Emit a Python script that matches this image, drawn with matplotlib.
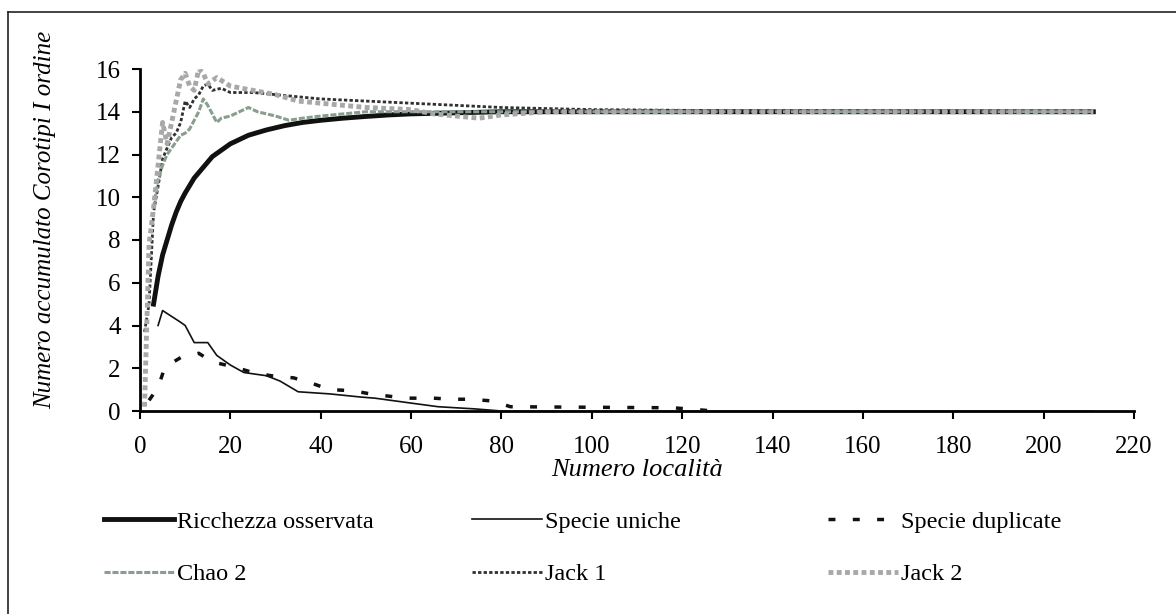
import matplotlib
matplotlib.use("Agg")
import matplotlib.pyplot as plt
from matplotlib.lines import Line2D

plt.rcParams['font.family'] = ['Liberation Serif', 'DejaVu Serif']

# valori (numero località -> valore)
x_oss = [3, 4, 5, 6, 7, 8, 9, 10, 12, 14, 16, 18, 20, 24, 28, 32, 36, 40, 45, 50, 55, 60, 70, 80, 211]
ricchezza = [5.0, 6.3, 7.3, 8.0, 8.7, 9.3, 9.8, 10.2, 10.9, 11.4, 11.9, 12.2, 12.5, 12.9, 13.15,
             13.35, 13.5, 13.6, 13.7, 13.78, 13.85, 13.9, 13.95, 14.0, 14.0]

x_uni = [4, 5, 9, 10, 12, 15, 17, 20, 23, 28, 31, 35, 42, 49, 52, 60, 66, 74, 80, 211]
uniche = [4.0, 4.7, 4.15, 4.0, 3.2, 3.2, 2.6, 2.15, 1.8, 1.65, 1.4, 0.9, 0.8, 0.65, 0.6, 0.37,
          0.2, 0.1, 0.0, 0.0]

x_dup = [2, 4, 5.5, 9, 13, 16, 21, 25, 29, 34, 38, 42, 47, 51, 56, 60, 65, 69, 73, 78, 82, 118, 127]
duplicate = [0.5, 1.1, 2.05, 2.5, 2.7, 2.3, 2.05, 1.8, 1.65, 1.55, 1.3, 1.0, 0.95, 0.8, 0.67, 0.6,
             0.6, 0.55, 0.55, 0.47, 0.2, 0.15, 0.0]

x_chao = [3, 4, 5, 6, 7, 8, 9, 10, 11, 12, 13, 14, 15, 16, 17, 18, 20, 22, 24, 26, 28, 30, 33, 36,
          40, 45, 50, 60, 211]
chao2 = [9.5, 10.8, 11.5, 12.0, 12.3, 12.6, 12.9, 13.0, 13.2, 13.6, 14.0, 14.6, 14.3, 13.9, 13.5,
         13.7, 13.8, 14.0, 14.2, 14.0, 13.9, 13.8, 13.6, 13.7, 13.8, 13.9, 14.0, 14.0, 14.0]

x_j1 = [1, 2, 3, 4, 5, 6, 7, 8, 9, 10, 11, 12, 13, 14, 15, 16, 18, 20, 25, 30, 35, 40, 45, 50, 60,
        70, 80, 100, 130, 211]
jack1 = [3.7, 5.0, 9.3, 10.5, 11.8, 12.3, 12.8, 13.0, 13.5, 14.5, 14.2, 14.6, 14.8, 15.2, 15.3,
         15.0, 15.1, 14.9, 14.9, 14.8, 14.7, 14.6, 14.55, 14.5, 14.4, 14.3, 14.2, 14.1, 14.05, 14.0]

x_j2 = [1, 2, 3, 4, 5, 6, 7, 8, 9, 10, 11, 12, 13, 14, 15, 17, 20, 25, 30, 35, 40, 50, 60, 65, 70,
        75, 80, 90, 211]
jack2 = [0.2, 7.8, 9.5, 11.5, 13.5, 12.5, 13.5, 14.5, 15.5, 15.8, 15.2, 15.0, 16.0, 15.8, 15.3,
         15.6, 15.2, 15.0, 14.8, 14.5, 14.4, 14.2, 14.1, 13.9, 13.8, 13.7, 13.85, 14.0, 14.0]

fig = plt.figure(figsize=(11.76, 6.14), dpi=100)
ax = fig.add_axes([140 / 1176, 1 - 411 / 614, (1134 - 140) / 1176, (411 - 69) / 614])

ax.plot(x_oss, ricchezza, color='#111111', lw=3.5, label='Ricchezza osservata', zorder=2)
ax.plot(x_j1, jack1, color='#303030', lw=2, ls=(0, (1.2, 0.8)), label='Jack 1', zorder=3)
ax.plot(x_chao, chao2, color='#8a9e90', lw=2.2, ls=(0, (2, 0.6)), label='Chao 2', zorder=3)
ax.plot(x_j2, jack2, color='#a8a8a8', lw=3.5, ls=(0, (1, 0.7)), label='Jack 2', zorder=4)
ax.plot(x_uni, uniche, color='#111111', lw=1.2, label='Specie uniche', zorder=4)
ax.plot(x_dup, duplicate, color='#111111', lw=2.5, ls=(0, (2, 5)), label='Specie duplicate', zorder=4)

ax.set_xlim(0, 220)
ax.set_ylim(0, 16)
ax.set_xticks(range(0, 221, 20))
ax.set_yticks(range(0, 17, 2))
for s in ['top', 'right']:
    ax.spines[s].set_visible(False)
for s in ['left', 'bottom']:
    ax.spines[s].set_linewidth(2)
ax.tick_params(direction='out', length=6, width=1.5, labelsize=18, pad=12)
ax.tick_params(axis='y', pad=8)

ax.set_xlabel('Numero località', fontsize=19, style='italic', labelpad=1)
ax.set_ylabel('Numero accumulato Corotipi I ordine', fontsize=18, style='italic')
ax.yaxis.set_label_coords(-0.084, 0.56)

# legenda su tre colonne
h = {l.get_label(): l for l in ax.get_lines()}
colonne = [(['Ricchezza osservata', 'Chao 2'], 82), (['Specie uniche', 'Jack 1'], 450),
           (['Specie duplicate', 'Jack 2'], 806)]
for nomi, px in colonne:
    fig.legend([h[n] for n in nomi], nomi, loc='upper left', bbox_to_anchor=(px / 1176, 1 - 489 / 614),
               frameon=False, fontsize=17.5, handlelength=2.9, handletextpad=0.1, labelspacing=1.25)

# cornice
fig.add_artist(Line2D([8 / 1176, 8 / 1176], [0, 1 - 12 / 614], color='#222222', lw=1.2))
fig.add_artist(Line2D([8 / 1176, 1], [1 - 12 / 614, 1 - 12 / 614], color='#222222', lw=1.2))

fig.savefig('out.png', dpi=100)
